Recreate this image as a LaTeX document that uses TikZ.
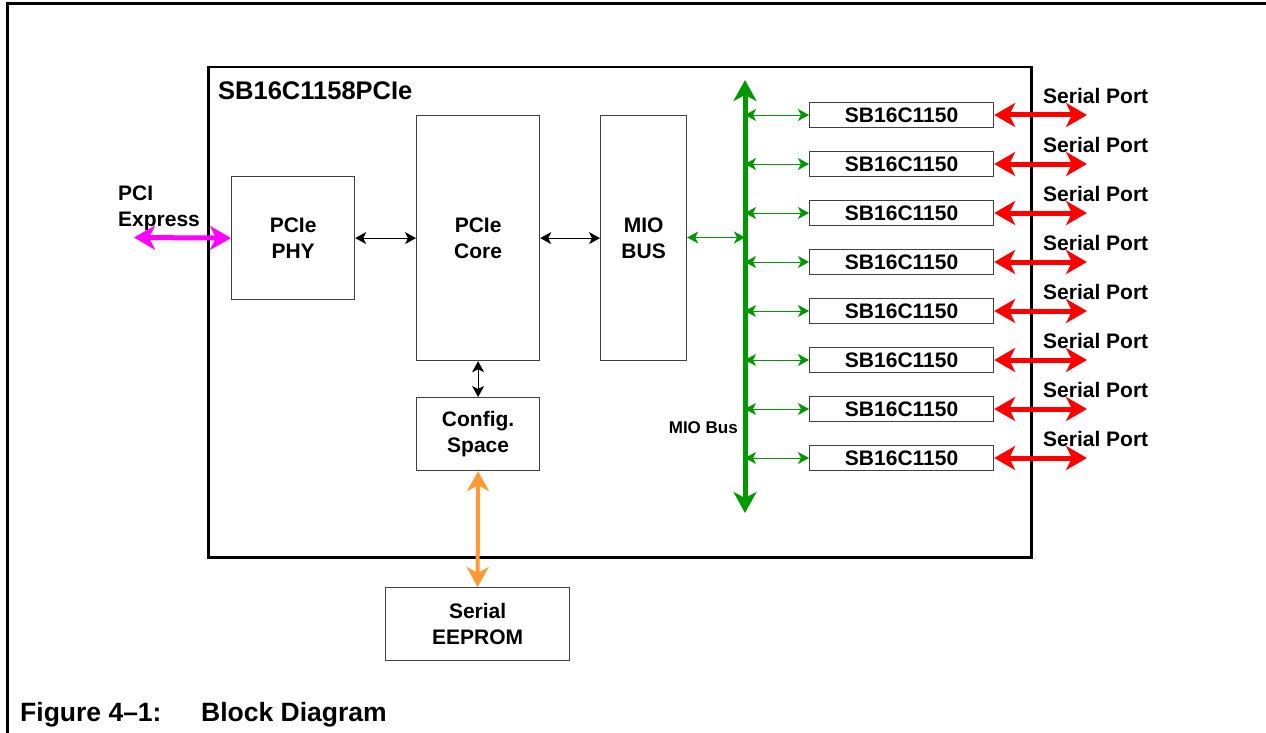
\documentclass[tikz,border=0pt]{standalone}
\usepackage{fontspec}
\setmainfont{Liberation Sans}
\usetikzlibrary{arrows.meta}
\definecolor{busgreen}{HTML}{009900}
\definecolor{portred}{HTML}{FF0000}
\definecolor{pcimag}{HTML}{FF00FF}
\definecolor{eeorange}{HTML}{FF9933}
\begin{document}
\begin{tikzpicture}[x=1pt,y=-1pt,
  lbl/.style={font=\fontsize{21}{26}\selectfont\bfseries, inner sep=0pt, align=center},
  blk/.style={draw=black!75, line width=1.2pt, lbl, anchor=north west},
  thinarr/.style={line width=0.8pt, {Stealth[length=11pt,width=12pt,inset=3pt]}-{Stealth[length=11pt,width=12pt,inset=3pt]}},
  thickarr/.style={line width=5pt, {Stealth[length=21pt,width=24pt,inset=6pt]}-{Stealth[length=21pt,width=24pt,inset=6pt]}},
  uart/.style={blk, minimum width=184pt, minimum height=24.5pt, anchor=west},
  portlbl/.style={lbl, anchor=base west}
]
\useasboundingbox (0,0) rectangle (1266,733);
% outer frame
\draw[line width=3pt] (7,733) -- (7,4) -- (1266,4);
% main chip box
\node[draw, line width=2.5pt, minimum width=823pt, minimum height=490pt, anchor=north west, inner sep=0pt] (main) at (207,66) {};
\node[font=\fontsize{25.5}{30}\selectfont\bfseries, inner sep=0pt, anchor=base west] (title) at (218,99.5) {SB16C1158PCIe};
% blocks
\node[blk, minimum width=123pt, minimum height=123pt] (phy) at (231,176) {PCIe\\PHY};
\node[blk, minimum width=123pt, minimum height=245pt] (core) at (416,115) {PCIe\\Core};
\node[blk, minimum width=86pt, minimum height=245pt] (mio) at (600,115) {MIO\\BUS};
\node[blk, minimum width=123pt, minimum height=73pt] (cfg) at (416,397) {Config.\\Space};
\node[blk, minimum width=184pt, minimum height=73pt] (eeprom) at (385,587) {Serial\\EEPROM};
% PCI Express label
\node[lbl, align=left, anchor=north west] (pcie) at (118,186) {PCI\\Express};
\coordinate (pcin) at (134,237.5);
\draw[thickarr, pcimag] (pcin) -- (phy.west);
% internal arrows
\draw[thinarr] (phy.east) -- (core.west |- phy.east);
\draw[thinarr] (core.east |- phy.east) -- (mio.west |- phy.east);
\draw[thinarr] (core.south) -- (cfg.north);
\draw[line width=4pt, eeorange, {Stealth[length=20pt,width=22pt,inset=6pt]}-{Stealth[length=20pt,width=22pt,inset=6pt]}] (cfg.south) -- (eeprom.north);
% MIO bus
\coordinate (bustop) at (745,80);
\coordinate (busbot) at (745,513);
\draw[line width=5pt, busgreen, {Stealth[length=21pt,width=23pt,inset=6pt]}-{Stealth[length=21pt,width=23pt,inset=6pt]}] (bustop) -- (busbot);
\coordinate (mioj) at (745,237.5);
\draw[thinarr, busgreen] (mio.east |- mioj) -- (mioj);
\node[font=\fontsize{17}{20}\selectfont\bfseries, inner sep=0pt, anchor=base east] (miolbl) at (738,433) {MIO Bus};
% UARTs
\foreach \i/\y in {1/115,2/164,3/213,4/262,5/311,6/360,7/409,8/458}{
  \node[uart] (u\i) at (809,\y) {SB16C1150};
  \coordinate (bj\i) at (745,\y);
  \coordinate (sp\i) at (1087,\y);
  \draw[thinarr, busgreen] (bj\i) -- (u\i.west);
  \draw[thickarr, portred] (u\i.east) -- (sp\i);
  \node[portlbl] (pl\i) at (1043,\y-11.5) {Serial Port};
}
% caption
\node[font=\fontsize{26.5}{30}\selectfont\bfseries, inner sep=0pt, anchor=base west] (cap) at (20,721.5) {\makebox[181pt][l]{Figure 4–1:}Block Diagram};
\end{tikzpicture}
\end{document}
